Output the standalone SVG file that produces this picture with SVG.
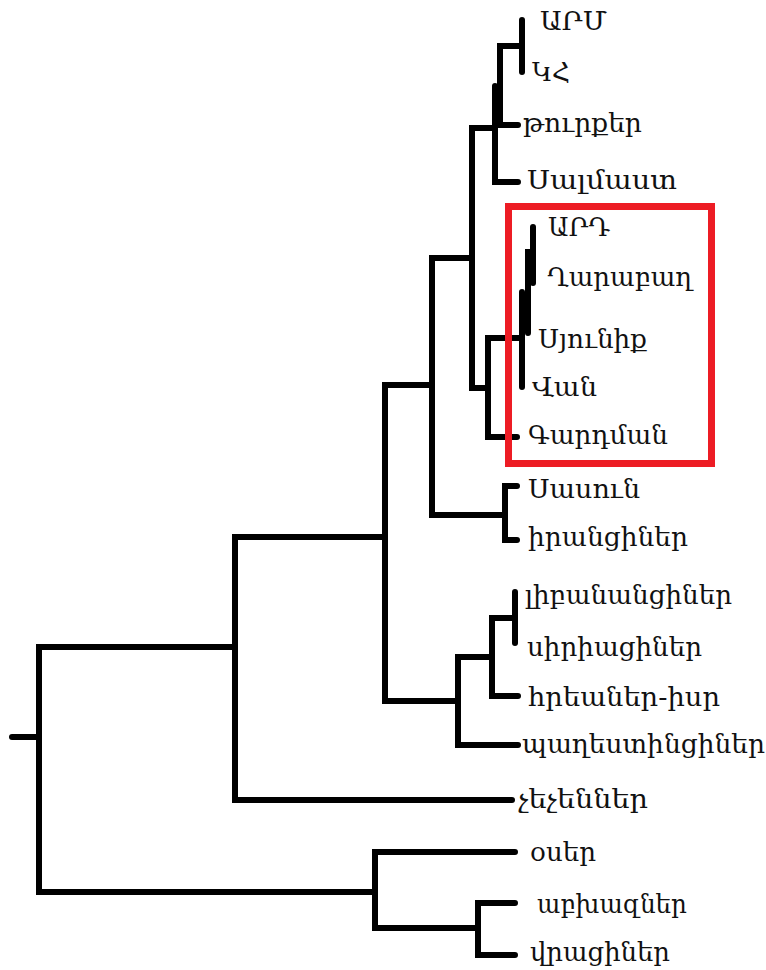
<svg xmlns="http://www.w3.org/2000/svg" width="766" height="970" viewBox="0 0 766 970">
  <style>
    .br { fill: none; stroke: #000; stroke-width: 6; stroke-linecap: round; stroke-linejoin: miter; }
    .lb { font-family: "DejaVu Serif", "DejaVu Sans", serif; font-size: 26px; fill: #111; }
    .hl { fill: none; stroke: #ED1C24; stroke-width: 7; }
  </style>
  <rect width="766" height="970" fill="#fff"/>

  <!-- tree branches -->
  <g id="connectors">
    <!-- root -->
    <path class="br" d="M12 737 H39"/>
    <path class="br" d="M235 647 H39 V892 H375"/>
    <!-- upper main clade -->
    <path class="br" d="M385 537 H235 V800 H512"/>
    <path class="br" d="M432 385 H385 V701 H458"/>
    <path class="br" d="M472 258 H432 V515 H505"/>
    <path class="br" d="M495 128 H472 V388 H488"/>
    <!-- ARM / KH / turks / Salmast -->
    <path class="br" d="M518 182 H495 V86"/>
    <path class="br" d="M518 125 H500 V46 H522"/>
    <path class="br" d="M522 20 V72"/>
    <!-- ARD / Gharabagh / Syunik / Van / Gardman -->
    <path class="br" d="M522 338 H488 V437 H517"/>
    <path class="br" d="M522 292 V387"/>
    <path class="br" d="M528 333 V252 H533"/>
    <path class="br" d="M533 227 V283"/>
    <!-- Sasun / Iranians -->
    <path class="br" d="M517 486 H505 V540 H517"/>
    <!-- Levant -->
    <path class="br" d="M492 657 H458 V745 H518"/>
    <path class="br" d="M515 618 H492 V696 H518"/>
    <path class="br" d="M515 592 V643"/>
    <!-- Caucasus -->
    <path class="br" d="M515 852 H375 V928 H478"/>
    <path class="br" d="M515 903 H478 V955 H515"/>
  </g>

  <!-- highlighted group -->
  <g id="highlight">
    <rect class="hl" x="508.5" y="206.5" width="203" height="257"/>
  </g>

  <!-- leaf labels -->
  <g id="leaf-arm"><text class="lb" x="540" y="30" textLength="67" lengthAdjust="spacingAndGlyphs">ԱՐՄ</text></g>
  <g id="leaf-kh"><text class="lb" x="532" y="81" textLength="38" lengthAdjust="spacingAndGlyphs">ԿՀ</text></g>
  <g id="leaf-turk"><text class="lb" x="523" y="132" textLength="119" lengthAdjust="spacingAndGlyphs">թուրքեր</text></g>
  <g id="leaf-salmast"><text class="lb" x="527" y="189" textLength="150" lengthAdjust="spacingAndGlyphs">Սալմաստ</text></g>
  <g id="leaf-ard"><text class="lb" x="548" y="236" textLength="62" lengthAdjust="spacingAndGlyphs">ԱՐԴ</text></g>
  <g id="leaf-gharabagh"><text class="lb" x="547" y="286" textLength="145" lengthAdjust="spacingAndGlyphs">Ղարաբաղ</text></g>
  <g id="leaf-syunik"><text class="lb" x="538" y="348" textLength="109" lengthAdjust="spacingAndGlyphs">Սյունիք</text></g>
  <g id="leaf-van"><text class="lb" x="532" y="396" textLength="65" lengthAdjust="spacingAndGlyphs">Վան</text></g>
  <g id="leaf-gardman"><text class="lb" x="528" y="444" textLength="140" lengthAdjust="spacingAndGlyphs">Գարդման</text></g>
  <g id="leaf-sasun"><text class="lb" x="528" y="498" textLength="112" lengthAdjust="spacingAndGlyphs">Սասուն</text></g>
  <g id="leaf-iran"><text class="lb" x="528" y="546" textLength="160" lengthAdjust="spacingAndGlyphs">իրանցիներ</text></g>
  <g id="leaf-leban"><text class="lb" x="525" y="604" textLength="207" lengthAdjust="spacingAndGlyphs">լիբանանցիներ</text></g>
  <g id="leaf-syria"><text class="lb" x="527" y="656" textLength="175" lengthAdjust="spacingAndGlyphs">սիրիացիներ</text></g>
  <g id="leaf-isr"><text class="lb" x="528" y="706" textLength="192" lengthAdjust="spacingAndGlyphs">հրեաներ-իսր</text></g>
  <g id="leaf-pal"><text class="lb" x="522" y="753" textLength="243" lengthAdjust="spacingAndGlyphs">պաղեստինցիներ</text></g>
  <g id="leaf-chech"><text class="lb" x="518" y="808" textLength="130" lengthAdjust="spacingAndGlyphs">չեչեններ</text></g>
  <g id="leaf-oss"><text class="lb" x="530" y="861" textLength="66" lengthAdjust="spacingAndGlyphs">օսեր</text></g>
  <g id="leaf-abkh"><text class="lb" x="537" y="913" textLength="150" lengthAdjust="spacingAndGlyphs">աբխազներ</text></g>
  <g id="leaf-geo"><text class="lb" x="530" y="961" textLength="140" lengthAdjust="spacingAndGlyphs">վրացիներ</text></g>
</svg>
